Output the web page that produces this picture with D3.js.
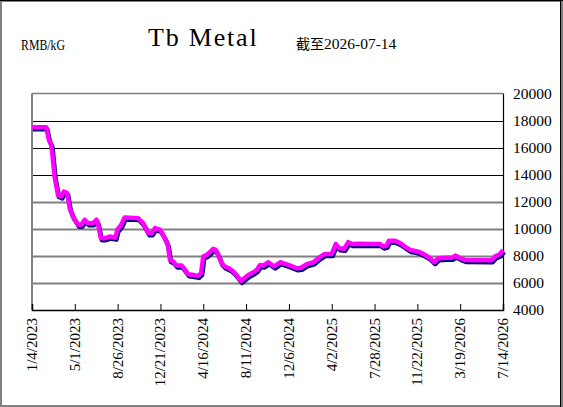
<!DOCTYPE html>
<html>
<head>
<meta charset="utf-8">
<script src="https://cdn.jsdelivr.net/npm/d3@7"></script>
<style>
  body { margin: 0; background: #fff; }
  svg { display: block; }
</style>
</head>
<body>
<svg id="chart" width="563" height="407"></svg>
<script>
// price history
const dates = [
  '2023-01-04','2023-02-12','2023-02-19','2023-02-26','2023-03-07','2023-03-16','2023-03-25','2023-04-01',
  '2023-04-10','2023-04-17','2023-04-26','2023-05-10','2023-05-19','2023-05-28','2023-06-06','2023-06-20',
  '2023-06-29','2023-07-03','2023-07-11','2023-07-22','2023-08-04','2023-08-20','2023-08-25','2023-09-05',
  '2023-09-14','2023-10-21','2023-11-03','2023-11-18','2023-11-27','2023-12-06','2023-12-20','2024-01-02',
  '2024-01-10','2024-01-16','2024-01-25','2024-02-03','2024-02-17','2024-02-26','2024-03-06','2024-03-20',
  '2024-04-02','2024-04-10','2024-04-16','2024-04-25','2024-05-04','2024-05-13','2024-05-20','2024-05-27',
  '2024-06-05','2024-06-14','2024-06-28','2024-07-07','2024-07-19','2024-07-28','2024-08-06','2024-08-17',
  '2024-08-31','2024-09-09','2024-09-18','2024-09-27','2024-10-11','2024-10-27','2024-11-12','2024-12-04',
  '2024-12-27','2025-01-08','2025-01-24','2025-02-11','2025-02-24','2025-03-13','2025-04-02','2025-04-13',
  '2025-04-22','2025-05-06','2025-05-17','2025-05-27','2025-06-14','2025-07-20','2025-08-12','2025-08-21',
  '2025-08-30','2025-09-05','2025-09-22','2025-10-06','2025-10-19','2025-11-02','2025-11-16','2025-11-29',
  '2025-12-13','2025-12-27','2026-01-07','2026-01-18','2026-02-06','2026-02-24','2026-03-07','2026-03-19',
  '2026-04-01','2026-06-13','2026-06-22','2026-07-06','2026-07-14'
];
const prices = [
  17500,17500,16600,16200,13800,12500,12400,12760,
  12640,11530,10900,10300,10300,10670,10420,10420,
  10670,10400,9310,9310,9430,9350,9930,10300,
  10840,10790,10420,9680,9680,10050,9930,9310,
  8810,7700,7580,7280,7280,6960,6640,6590,
  6520,6720,7950,8070,8270,8520,8440,8070,
  7460,7210,7040,6840,6470,6150,6350,6590,
  6790,6960,7330,7280,7530,7210,7530,7330,
  7090,7120,7390,7530,7830,8130,8130,8870,
  8570,8520,9010,8870,8900,8870,8870,8690,
  8760,9110,9110,8940,8690,8440,8370,8270,
  8070,7830,7530,7830,7870,7870,8020,7830,
  7700,7680,7950,8130,8440
];
const xTickLabels = ['1/4/2023','5/1/2023','8/26/2023','12/21/2023','4/16/2024','8/11/2024',
  '12/6/2024','4/2/2025','7/28/2025','11/22/2025','3/19/2026','7/14/2026'];
const yTicks = [4000, 6000, 8000, 10000, 12000, 14000, 16000, 18000, 20000];

const SERIF = '"Liberation Serif", "Times New Roman", "DejaVu Serif", serif';

const parse = d3.timeParse('%Y-%m-%d');
const parseTick = d3.timeParse('%m/%d/%Y');
const data = dates.map((d, i) => ({ date: parse(d), value: prices[i] }));
const tickDates = xTickLabels.map(parseTick);

const svg = d3.select('#chart');
const W = 563, H = 407;
const plotL = 32, plotR = 503, plotT = 93.5, plotB = 310;

// outer frame
svg.append('rect').attr('x', 1).attr('y', 1).attr('width', W - 2).attr('height', H - 2)
  .attr('fill', '#fff').attr('stroke', '#808080').attr('stroke-width', 2);
svg.append('line').attr('x1', 0).attr('x2', W).attr('y1', 0.5).attr('y2', 0.5).attr('stroke', '#000');
svg.append('line').attr('x1', W - 2.5).attr('x2', W - 2.5).attr('y1', 0).attr('y2', H).attr('stroke', '#000');

const x = d3.scaleTime().domain([tickDates[0], tickDates[tickDates.length - 1]]).range([plotL, plotR]);
const y = d3.scaleLinear().domain([4000, 20000]).range([plotB, plotT]);

// grid lines
svg.append('g').selectAll('line').data(yTicks.slice(1, -1)).enter().append('line')
  .attr('x1', plotL).attr('x2', plotR)
  .attr('y1', d => Math.round(y(d)) + 0.5).attr('y2', d => Math.round(y(d)) + 0.5)
  .attr('stroke', d => d >= 14000 ? '#000' : '#808080')
  .attr('stroke-width', d => d >= 14000 ? 1 : 2);

// plot border
svg.append('line').attr('x1', plotL).attr('x2', plotR).attr('y1', plotT).attr('y2', plotT)
  .attr('stroke', '#808080').attr('stroke-width', 1.5);
svg.append('line').attr('x1', plotL).attr('x2', plotL).attr('y1', plotT).attr('y2', plotB)
  .attr('stroke', '#808080').attr('stroke-width', 2);
svg.append('line').attr('x1', plotR + 0.5).attr('x2', plotR + 0.5).attr('y1', plotT).attr('y2', plotB)
  .attr('stroke', '#000').attr('stroke-width', 1.2);

// x axis with inward ticks
const xAxis = svg.append('g').attr('transform', `translate(0,${plotB})`)
  .call(d3.axisTop(x).tickValues(tickDates).tickSize(6).tickFormat(''));
xAxis.select('.domain').attr('stroke', '#000').attr('stroke-width', 1.5);
xAxis.selectAll('.tick line').attr('stroke', '#000');

svg.append('g').selectAll('text').data(tickDates).enter().append('text')
  .attr('transform', d => `translate(${x(d) + 5},${plotB + 8}) rotate(-90)`)
  .attr('text-anchor', 'end')
  .style('font-family', SERIF).style('font-size', '15px')
  .text((d, i) => xTickLabels[i]);

// y labels on the right
svg.append('g').selectAll('text').data(yTicks).enter().append('text')
  .attr('x', 513).attr('y', d => y(d) + 5)
  .style('font-family', SERIF).style('font-size', '15.5px')
  .text(d => d);

// line with dark shadow
const line = d3.line().x(d => x(d.date)).y(d => y(d.value));
svg.append('path').datum(data).attr('d', line)
  .attr('transform', 'translate(1,2)')
  .attr('fill', 'none').attr('stroke', '#000080').attr('stroke-width', 4.5)
  .attr('stroke-linejoin', 'round');
svg.append('path').datum(data).attr('d', line)
  .attr('fill', 'none').attr('stroke', '#ff00ff').attr('stroke-width', 4.5)
  .attr('stroke-linejoin', 'round');

// titles
svg.append('text').attr('x', 21).attr('y', 50)
  .style('font-family', SERIF).style('font-size', '14px')
  .attr('textLength', 44).attr('lengthAdjust', 'spacingAndGlyphs').text('RMB/kG');
svg.append('text').attr('x', 148).attr('y', 46)
  .style('font-family', SERIF).style('font-size', '26px')
  .style('letter-spacing', '1.8px').text('Tb Metal');
const sub = svg.append('text').attr('x', 296).attr('y', 49)
  .style('font-family', SERIF).style('font-size', '15.5px');
sub.append('tspan').style('font-family', '"Noto Sans CJK SC"').style('font-size', '14px').text('截至');
sub.append('tspan').text('2026-07-14');
</script>
</body>
</html>
